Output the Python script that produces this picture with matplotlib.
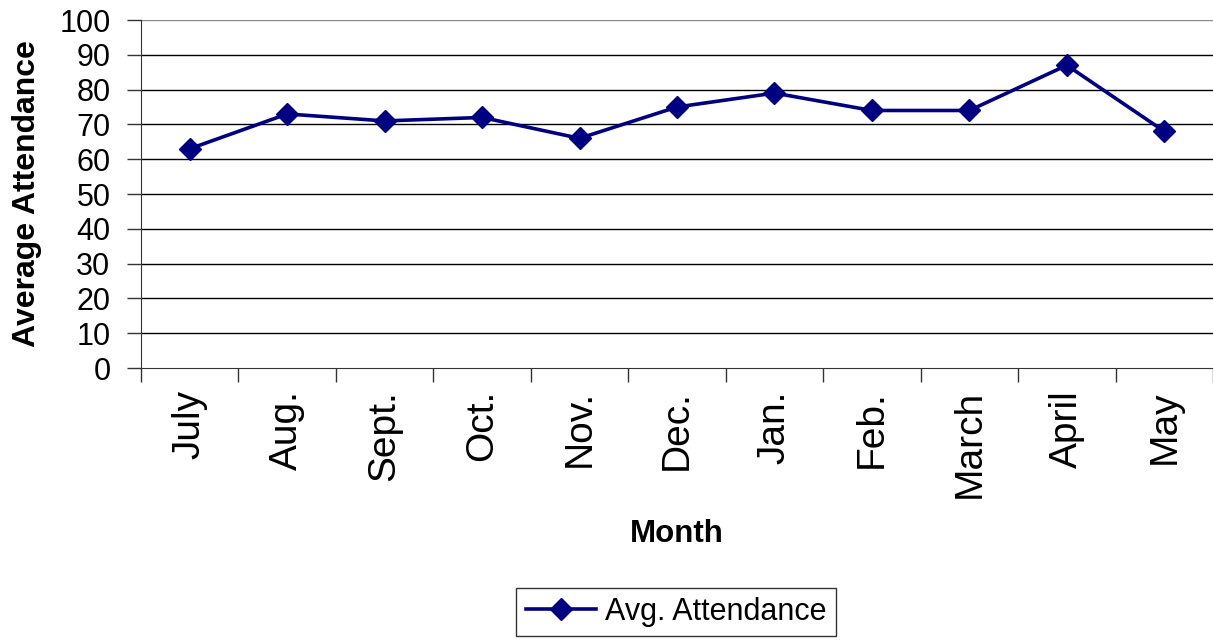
import numpy as np
import matplotlib.pyplot as plt

plt.rcParams["font.family"] = ["Liberation Sans", "DejaVu Sans"]

months = ["July", "Aug.", "Sept.", "Oct.", "Nov.", "Dec.", "Jan.", "Feb.", "March", "April", "May"]
attendance = [63, 73, 71, 72, 66, 75, 79, 74, 74, 87, 68]
yticks = list(range(0, 101, 10))

fig = plt.figure(figsize=(12.13, 6.43), dpi=100)
ax = fig.add_axes([141 / 1213, 275 / 643, 1 - 141 / 1213, 348 / 643])

x = np.arange(len(months))
ax.plot(x, attendance, color="#000080", lw=2.6, marker="D", ms=11.5,
        label="Avg. Attendance", zorder=3)

ax.set_xlim(-0.5, len(months) - 0.5)
ax.set_ylim(0, 100)
ax.set_yticks(yticks)
for v in yticks[1:]:
    ax.axhline(v, color="black" if v < 100 else "#888888", lw=1, zorder=1)

ax.set_xticks(x)
ax.set_xticklabels(months, rotation=90, fontsize=28)
ax.tick_params(axis="x", which="major", length=0, pad=16)
ax.set_xticks(np.arange(len(months) + 1) - 0.5, minor=True)
ax.tick_params(axis="x", which="minor", length=10, width=1, color="#333333")
ax.tick_params(axis="y", labelsize=22, length=10, width=1, color="#333333", pad=12)

for s in ["top", "right"]:
    ax.spines[s].set_visible(False)
ax.spines["left"].set_color("#333333")
ax.spines["bottom"].set_color("#333333")

ax.set_ylabel("Average Attendance", fontsize=23, fontweight="bold")
ax.yaxis.set_label_coords((42 - 141) / 1072, 0.5)
fig.text((141 + 1213) / 2 / 1213, 1 - 534 / 643, "Month", fontsize=22.5,
         fontweight="bold", ha="center", va="center")

leg = fig.legend(loc="center", bbox_to_anchor=(676 / 1213, 1 - 612 / 643),
                 fontsize=22, frameon=True, fancybox=False, edgecolor="black",
                 handlelength=2.3, handletextpad=0.3, borderpad=0.3,
                 borderaxespad=0)
leg.get_frame().set_linewidth(1)

fig.savefig("out.png", dpi=100)
